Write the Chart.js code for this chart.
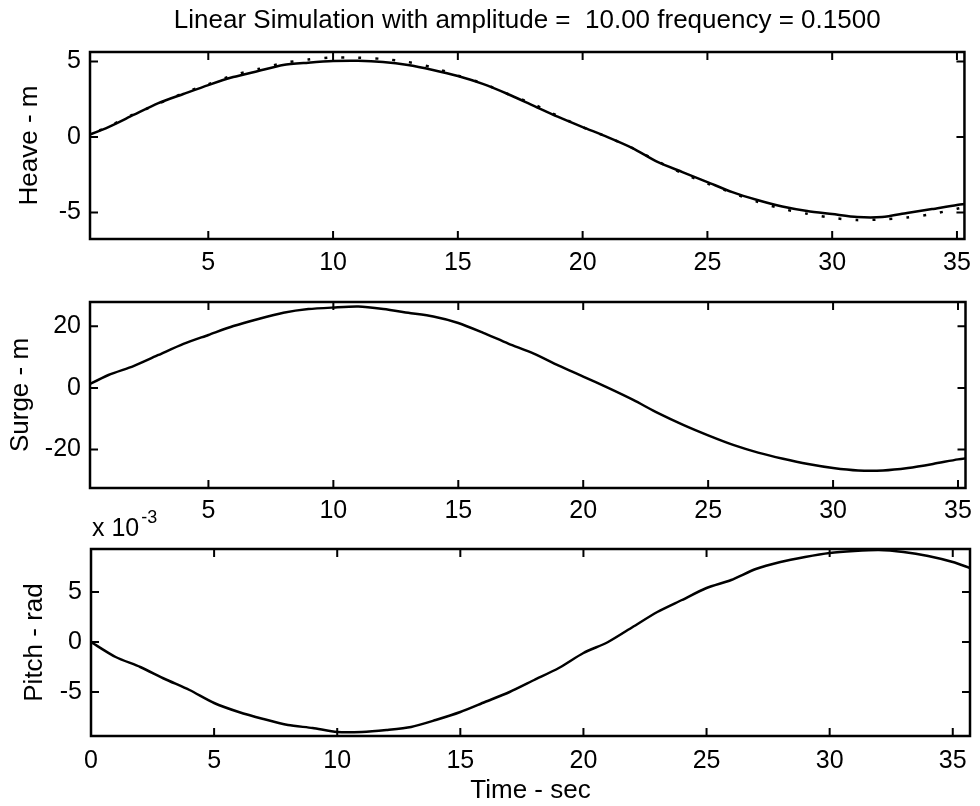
<!DOCTYPE html>
<html>
<head>
<meta charset="utf-8">
<title>Linear Simulation</title>
<script src="https://cdn.jsdelivr.net/npm/chart.js@4.4.0/dist/chart.umd.min.js"></script>
<style>
  html, body { margin: 0; padding: 0; background: #fff; }
  #wrap { position: relative; width: 980px; height: 806px; }
  #wrap canvas { position: absolute; left: 0; top: 0; }
</style>
</head>
<body>
<div id="wrap">
  <canvas id="heave" width="980" height="806"></canvas>
  <canvas id="surge" width="980" height="806"></canvas>
  <canvas id="pitch" width="980" height="806"></canvas>
</div>
<script>
// values, one sample per second
const timeSec = [0, 1, 2, 3, 4, 5, 6, 7, 8, 9, 10, 11, 12, 13, 14, 15, 16, 17, 18, 19,
  20, 21, 22, 23, 24, 25, 26, 27, 28, 29, 30, 31, 32, 33, 34, 35, 35.7];

// heave, simulated (solid) and reference wave (dotted), metres
const heave = [0, 0.66, 1.46, 2.25, 2.85, 3.44, 3.97, 4.37, 4.77, 4.92, 5.03, 5.05, 4.97, 4.77,
  4.44, 4.04, 3.52, 2.85, 2.1, 1.35, 0.66, 0, -0.73, -1.65, -2.32, -2.98, -3.65, -4.17,
  -4.6, -4.9, -5.1, -5.3, -5.3, -5.03, -4.77, -4.5, -4.37];
const heaveRef = [0, 0.7, 1.5, 2.2, 2.9, 3.5, 4.1, 4.5, 4.9, 5.13, 5.27, 5.25, 5.17, 4.97,
  4.6, 4.07, 3.55, 2.85, 2.2, 1.4, 0.66, 0, -0.73, -1.6, -2.4, -3.07, -3.7, -4.28,
  -4.75, -5.08, -5.35, -5.5, -5.45, -5.33, -5.1, -4.75, -4.5];

// surge, metres
const surge = [0.2, 4.2, 7.1, 10.7, 14.3, 17.2, 20.1, 22.4, 24.4, 25.6, 26.1, 26.4, 25.6, 24.4,
  23.2, 21.1, 17.9, 14.4, 11.2, 7.3, 3.7, 0, -3.9, -8.2, -12.0, -15.4, -18.5, -21.0,
  -23.0, -24.7, -26.0, -26.8, -26.8, -26.0, -24.7, -23.2, -22.4];

// pitch, in units of 1e-3 rad
const pitchE3 = [0, -1.5, -2.5, -3.7, -4.8, -6.1, -7.0, -7.7, -8.3, -8.6, -9.0, -9.0, -8.8, -8.5,
  -7.8, -7.0, -6.0, -5.0, -3.8, -2.6, -1.1, 0, 1.5, 3.0, 4.2, 5.4, 6.2, 7.3,
  8.0, 8.5, 8.9, 9.1, 9.2, 9.0, 8.6, 8.0, 7.4];

const timeTicksTop = [5, 10, 15, 20, 25, 30, 35];
const timeTicksBottom = [0, 5, 10, 15, 20, 25, 30, 35];
const heaveTicks = [-5, 0, 5];
const surgeTicks = [-20, 0, 20];
const pitchTicks = [-5, 0, 5];

const FONT = '"Liberation Sans", Arial, Helvetica, sans-serif';
Chart.defaults.font.family = FONT;
Chart.defaults.font.size = 25;
Chart.defaults.color = '#000';

function pts(ys) {
  return timeSec.map((t, i) => ({ x: t, y: ys[i] }));
}

// matlab style box with inward ticks on all four sides
const axesBox = {
  id: 'axesBox',
  afterDatasetsDraw(chart) {
    const { ctx, chartArea: a, scales: { x, y } } = chart;
    ctx.save();
    ctx.strokeStyle = '#000';
    ctx.lineWidth = 2;
    ctx.beginPath();
    x.ticks.forEach(t => {
      const px = x.getPixelForValue(t.value);
      ctx.moveTo(px, a.bottom); ctx.lineTo(px, a.bottom - 8);
      ctx.moveTo(px, a.top); ctx.lineTo(px, a.top + 8);
    });
    y.ticks.forEach(t => {
      const py = y.getPixelForValue(t.value);
      ctx.moveTo(a.left, py); ctx.lineTo(a.left + 8, py);
      ctx.moveTo(a.right, py); ctx.lineTo(a.right - 8, py);
    });
    ctx.stroke();
    ctx.lineWidth = 2.5;
    ctx.strokeRect(a.left, a.top, a.right - a.left, a.bottom - a.top);
    ctx.restore();
  }
};

// "x 10^-3" exponent label above the pitch axes
const exponentLabel = {
  id: 'exponentLabel',
  afterDraw(chart) {
    const { ctx, chartArea: a } = chart;
    ctx.save();
    ctx.fillStyle = '#000';
    ctx.textBaseline = 'alphabetic';
    ctx.font = '25px ' + FONT;
    ctx.fillText('x 10', a.left + 1, a.top - 13);
    const w = ctx.measureText('x 10').width;
    ctx.font = '18px ' + FONT;
    ctx.fillText('-3', a.left + 3 + w, a.top - 26);
    ctx.restore();
  }
};

function makePlot(id, cfg) {
  return new Chart(document.getElementById(id), {
    type: 'line',
    data: { datasets: cfg.datasets },
    options: {
      responsive: false,
      animation: false,
      layout: { padding: { left: 0, right: 10, top: cfg.top, bottom: 0 } },
      plugins: {
        legend: { display: false },
        tooltip: { enabled: false },
        title: cfg.title || { display: false }
      },
      scales: {
        x: {
          type: 'linear',
          min: cfg.xMin,
          max: cfg.xMax,
          grid: { display: false, drawTicks: false },
          border: { display: false },
          afterBuildTicks: s => { s.ticks = cfg.xTicks.map(v => ({ value: v })); },
          afterFit: s => { s.height = 806 - cfg.bottom; },
          ticks: { padding: cfg.xPad, maxRotation: 0, autoSkip: false },
          title: cfg.xTitle || { display: false }
        },
        y: {
          type: 'linear',
          min: cfg.yMin,
          max: cfg.yMax,
          grid: { display: false, drawTicks: false },
          border: { display: false },
          afterBuildTicks: s => { s.ticks = cfg.yTicks.map(v => ({ value: v })); },
          afterFit: s => { s.width = cfg.left; },
          ticks: { padding: 9 },
          title: { display: true, text: cfg.yLabel, font: { size: 26 },
                   padding: { top: cfg.yTitlePad, bottom: 0 } }
        }
      }
    },
    plugins: cfg.plugins
  });
}

const solid = { borderColor: '#000', borderWidth: 2.5, pointRadius: 0, tension: 0.25 };

makePlot('heave', {
  top: 0, bottom: 239, left: 90,
  xMin: 0.26, xMax: 35.3, xTicks: timeTicksTop, xPad: 9,
  yMin: -6.75, yMax: 5.63, yTicks: heaveTicks, yLabel: 'Heave - m', yTitlePad: 14,
  title: {
    display: true, fullSize: false,
    text: 'Linear Simulation with amplitude =  10.00 frequency = 0.1500',
    font: { size: 26, weight: 'normal' },
    padding: { top: 5, bottom: 15.8 }
  },
  datasets: [
    Object.assign({ data: pts(heave) }, solid),
    { data: pts(heaveRef), borderColor: '#000', borderWidth: 2.5, pointRadius: 0,
      tension: 0.25, borderDash: [3, 14] }
  ],
  plugins: [axesBox]
});

makePlot('surge', {
  top: 302, bottom: 488, left: 90,
  xMin: 0.26, xMax: 35.3, xTicks: timeTicksTop, xPad: 8,
  yMin: -32.5, yMax: 27.9, yTicks: surgeTicks, yLabel: 'Surge - m', yTitlePad: 5,
  datasets: [Object.assign({ data: pts(surge) }, solid)],
  plugins: [axesBox]
});

makePlot('pitch', {
  top: 549, bottom: 736, left: 91,
  xMin: 0, xMax: 35.7, xTicks: timeTicksBottom, xPad: 10,
  xTitle: { display: true, text: 'Time - sec', font: { size: 26 }, padding: { top: 0, bottom: 0 } },
  yMin: -9.4, yMax: 9.3, yTicks: pitchTicks, yLabel: 'Pitch - rad', yTitlePad: 19,
  datasets: [Object.assign({ data: pts(pitchE3) }, solid)],
  plugins: [axesBox, exponentLabel]
});
</script>
</body>
</html>
